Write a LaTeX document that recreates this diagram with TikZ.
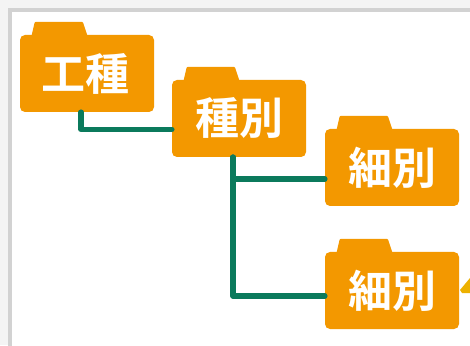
\documentclass[tikz,border=0pt]{standalone}
\usepackage{fontspec}
\usetikzlibrary{calc}
\setmainfont{Noto Sans CJK JP Bold}
\definecolor{foldercol}{HTML}{F39800}
\definecolor{linkcol}{HTML}{0B7A5C}
\definecolor{framecol}{HTML}{D2D2D2}
\definecolor{pagecol}{HTML}{F4F4F4}
\definecolor{pointercol}{HTML}{EDB100}
\tikzset{
  folder/.style={fill=foldercol, rounded corners=5pt, minimum width=134pt, minimum height=77pt,
    inner sep=0pt, text=white, font=\fontsize{44pt}{44pt}\selectfont},
  foldertab/.style={fill=foldercol, rounded corners=1pt},
  link/.style={draw=linkcol, line width=5.5pt, line cap=round, line join=round}
}
\begin{document}
\begin{tikzpicture}[x=1pt,y=1pt]
        \useasboundingbox (0,0) rectangle (470,345);
        \fill[pagecol] (0,0) rectangle (470,345);
        \fill[framecol] (7.5,-2) rectangle (472,337);
        \fill[white] (11.5,-2) rectangle (472,333);

        \node[folder] (kosyu) at (87,271.5) {\raisebox{-2pt}{\kern-3pt 工種}};
        \node[folder] (syubetsu) at (239,226.5) {\raisebox{-2pt}{種別}};
        \node[folder] (saibetsuA) at (392,177.5) {\raisebox{-2pt}{細別}};
        \node[folder] (saibetsuB) at (392,54.5) {\raisebox{-2pt}{細別}};

        \foreach \n in {kosyu,syubetsu,saibetsuA,saibetsuB} {
            \fill[foldertab] ($(\n.north west)+(11.5,-2)$) -- ($(\n.north west)+(15,13)$)
                -- ($(\n.north west)+(63,13)$) -- ($(\n.north west)+(68,-2)$) -- cycle;
        }

        \draw[link] ([xshift=-6pt]kosyu.south) |- ([yshift=-11pt]syubetsu.west);
        \draw[link] ([xshift=-6pt]syubetsu.south) |- ([yshift=-11.5pt]saibetsuA.west);
        \draw[link] ([xshift=-6pt]syubetsu.south) |- ([yshift=-5.5pt]saibetsuB.west);

        \fill[pointercol] (460,55) -- (470,67) -- (470,52) -- (462,52) -- cycle;
\end{tikzpicture}
\end{document}
